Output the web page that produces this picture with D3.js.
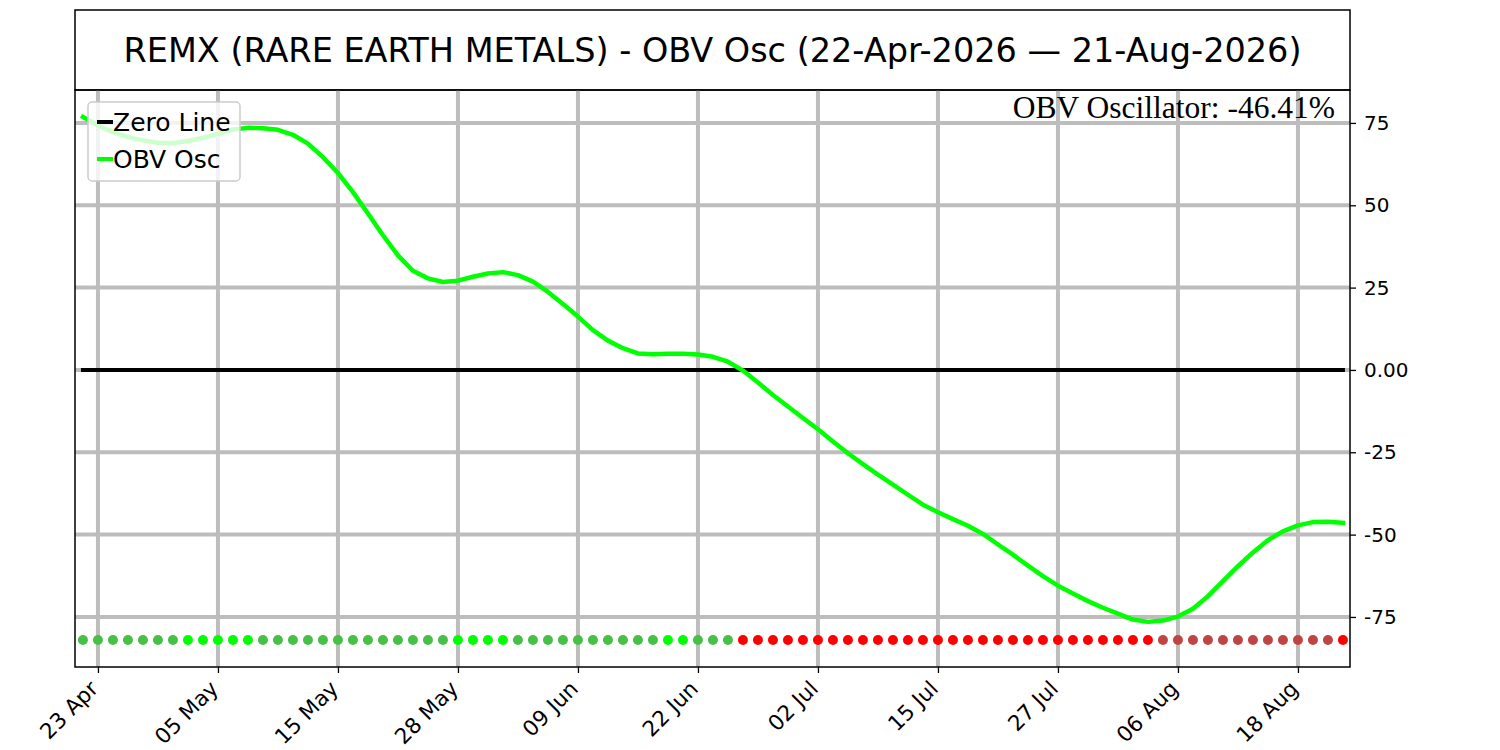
<!DOCTYPE html>
<html>
<head>
<meta charset="utf-8">
<script src="https://cdn.jsdelivr.net/npm/d3@7"></script>
<style>
  body { margin: 0; background: #fff; }
  svg { font-family: "DejaVu Sans", sans-serif; }
</style>
</head>
<body>
<div id="vis"></div>
<script>
const FRAME_WIDTH = 1500;
const FRAME_HEIGHT = 750;
const PLOT = {left: 75, right: 1350, top: 90, bottom: 667};
const TITLE_TOP = 10;

// OBV oscillator, one value per trading day (22-Apr-2026 .. 21-Aug-2026)
const OBV_OSC = [
  76.8, 74.2, 72.2, 70.7, 69.7, 69.0, 68.9, 69.5, 70.5, 71.7,
  73.0, 73.5, 73.4, 72.9, 71.4, 68.7, 64.6, 59.8, 54.0, 47.5,
  40.9, 34.8, 30.1, 27.8, 26.7, 27.1, 28.3, 29.3, 29.7, 28.8,
  26.8, 23.7, 20.0, 16.2, 12.1, 8.9, 6.6, 5.0, 4.8, 4.9,
  4.9, 4.7, 4.0, 2.5, -0.2, -3.8, -7.6, -11.1, -14.6, -18.0,
  -21.7, -25.3, -28.6, -31.8, -34.8, -37.9, -40.9, -43.2, -45.3, -47.3,
  -49.8, -53.0, -56.1, -59.4, -62.6, -65.5, -67.9, -70.2, -72.2, -74.0,
  -75.8, -76.5, -76.1, -74.9, -72.5, -68.7, -64.1, -59.6, -55.4, -51.7,
  -49.0, -47.2, -46.2, -46.1, -46.41
];

// signal dot per day: g = above zero falling, G = above zero rising,
// r = below zero falling, d = below zero rising
const SIGNAL = [
  "g","g","g","g","g","g","g","G","G","G",
  "G","G","g","g","g","g","g","g","g","g",
  "g","g","g","g","g","G","G","G","G","g",
  "g","g","g","g","g","g","g","g","g","G",
  "G","g","g","g","r","r","r","r","r","r",
  "r","r","r","r","r","r","r","r","r","r",
  "r","r","r","r","r","r","r","r","r","r",
  "r","r","d","d","d","d","d","d","d","d",
  "d","d","d","d","r"
];
const SIGNAL_COLORS = {g: "#46c046", G: "#00ff00", r: "#ff0000", d: "#bf4545"};
const SIGNAL_LEVEL = -82;

// x tick labels (every 8 trading days starting at index 1)
const X_TICK_INDEX = [1, 9, 17, 25, 33, 41, 49, 57, 65, 73, 81];
const X_TICK_LABELS = ["23 Apr", "05 May", "15 May", "28 May", "09 Jun", "22 Jun",
                       "02 Jul", "15 Jul", "27 Jul", "06 Aug", "18 Aug"];
const Y_TICKS = [75, 50, 25, 0, -25, -50, -75];
const Y_TICK_LABELS = ["75", "50", "25", "0.00", "-25", "-50", "-75"];

const TITLE = "REMX (RARE EARTH METALS) - OBV Osc (22-Apr-2026 \u2014 21-Aug-2026)";
const ANNOTATION = "OBV Oscillator: -46.41%";

const X_SCALE = d3.scaleLinear()
                  .domain([-0.53, 84.47])
                  .range([PLOT.left, PLOT.right]);

const Y_SCALE = d3.scaleLinear()
                  .domain([-90.2, 85.0])
                  .range([PLOT.bottom, PLOT.top]);

const SVG = d3.select("#vis")
              .append("svg")
                .attr("width", FRAME_WIDTH)
                .attr("height", FRAME_HEIGHT);

// title box
SVG.append("rect")
    .attr("x", PLOT.left)
    .attr("y", TITLE_TOP)
    .attr("width", PLOT.right - PLOT.left)
    .attr("height", PLOT.top - TITLE_TOP)
    .attr("fill", "#fff")
    .attr("stroke", "#000")
    .attr("stroke-width", 1.5);

SVG.append("text")
    .attr("x", (PLOT.left + PLOT.right) / 2)
    .attr("y", (TITLE_TOP + PLOT.top) / 2)
    .attr("text-anchor", "middle")
    .attr("dominant-baseline", "central")
    .attr("font-size", "33.5px")
    .text(TITLE);

// grid
const GRID = SVG.append("g").attr("stroke", "#bdbdbd").attr("stroke-width", 4);

GRID.selectAll(".vgrid")
    .data(X_TICK_INDEX)
    .enter()
    .append("line")
      .attr("x1", (d) => X_SCALE(d))
      .attr("x2", (d) => X_SCALE(d))
      .attr("y1", PLOT.top)
      .attr("y2", PLOT.bottom);

GRID.selectAll(".hgrid")
    .data(Y_TICKS)
    .enter()
    .append("line")
      .attr("x1", PLOT.left)
      .attr("x2", PLOT.right)
      .attr("y1", (d) => Y_SCALE(d))
      .attr("y2", (d) => Y_SCALE(d));

// zero line
SVG.append("line")
    .attr("x1", X_SCALE(0))
    .attr("x2", X_SCALE(OBV_OSC.length - 1))
    .attr("y1", Y_SCALE(0))
    .attr("y2", Y_SCALE(0))
    .attr("stroke", "#000")
    .attr("stroke-width", 4)
    .attr("stroke-linecap", "square");

// oscillator line
const LINE = d3.line()
               .x((d, i) => X_SCALE(i))
               .y((d) => Y_SCALE(d));

SVG.append("path")
    .datum(OBV_OSC)
    .attr("d", LINE)
    .attr("fill", "none")
    .attr("stroke", "#00ff00")
    .attr("stroke-width", 4.5)
    .attr("stroke-linejoin", "round")
    .attr("stroke-linecap", "square");

// signal dots
SVG.selectAll(".dot")
    .data(SIGNAL)
    .enter()
    .append("circle")
      .attr("cx", (d, i) => X_SCALE(i))
      .attr("cy", Y_SCALE(SIGNAL_LEVEL))
      .attr("r", 5)
      .attr("fill", (d) => SIGNAL_COLORS[d]);

// axes frame
SVG.append("rect")
    .attr("x", PLOT.left)
    .attr("y", PLOT.top)
    .attr("width", PLOT.right - PLOT.left)
    .attr("height", PLOT.bottom - PLOT.top)
    .attr("fill", "none")
    .attr("stroke", "#000")
    .attr("stroke-width", 1.5);

// x axis
const X_AXIS = SVG.append("g")
    .attr("transform", "translate(0," + PLOT.bottom + ")")
    .call(d3.axisBottom(X_SCALE)
            .tickValues(X_TICK_INDEX)
            .tickSize(6)
            .tickFormat((d, i) => X_TICK_LABELS[i]));

X_AXIS.select(".domain").remove();
X_AXIS.selectAll(".tick line").attr("stroke-width", 1.3);
X_AXIS.selectAll(".tick text")
    .attr("font-size", "21.5px")
    .attr("font-family", "DejaVu Sans")
    .attr("fill", "#000")
    .attr("text-anchor", "end")
    .attr("dy", null)
    .attr("y", 0)
    .attr("transform", "translate(1,23) rotate(-45)");

// y axis on the right
const Y_AXIS = SVG.append("g")
    .attr("transform", "translate(" + PLOT.right + ",0)")
    .call(d3.axisRight(Y_SCALE)
            .tickValues(Y_TICKS)
            .tickSize(6)
            .tickPadding(8)
            .tickFormat((d, i) => Y_TICK_LABELS[i]));

Y_AXIS.select(".domain").remove();
Y_AXIS.selectAll(".tick line").attr("stroke-width", 1.3);
Y_AXIS.selectAll(".tick text")
    .attr("font-size", "20px")
    .attr("font-family", "DejaVu Sans")
    .attr("fill", "#000");

// value annotation
SVG.append("text")
    .attr("x", 1335)
    .attr("y", 118)
    .attr("text-anchor", "end")
    .attr("font-family", "Liberation Serif, serif")
    .attr("font-size", "31.5px")
    .text(ANNOTATION);

// legend
const LEGEND = SVG.append("g").attr("transform", "translate(88,102)");

LEGEND.append("rect")
    .attr("width", 152)
    .attr("height", 79)
    .attr("rx", 4)
    .attr("fill", "#fff")
    .attr("fill-opacity", 0.8)
    .attr("stroke", "#cccccc")
    .attr("stroke-width", 1.5);

const LEGEND_ITEMS = [
  {label: "Zero Line", color: "#000"},
  {label: "OBV Osc", color: "#00ff00"}
];

const ITEM = LEGEND.selectAll(".item")
    .data(LEGEND_ITEMS)
    .enter()
    .append("g")
      .attr("transform", (d, i) => "translate(0," + (20 + i * 37) + ")");

ITEM.append("line")
    .attr("x1", 9)
    .attr("x2", 25)
    .attr("stroke", (d) => d.color)
    .attr("stroke-width", 4);

ITEM.append("text")
    .attr("x", 25)
    .attr("dominant-baseline", "central")
    .attr("font-size", "25px")
    .text((d) => d.label);
</script>
</body>
</html>
